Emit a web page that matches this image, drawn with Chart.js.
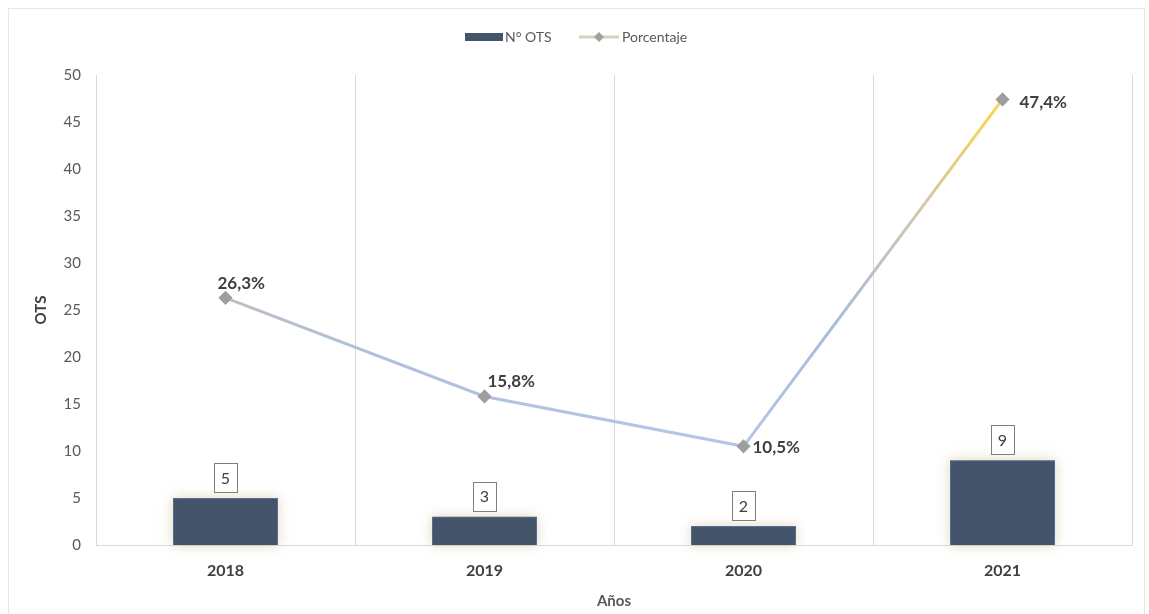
<!DOCTYPE html>
<html>
<head>
<meta charset="utf-8">
<script src="https://cdn.jsdelivr.net/npm/chart.js@4.4.1/dist/chart.umd.min.js"></script>
<style>
  html, body { margin: 0; padding: 0; background: #fff; }
  #wrap { position: relative; width: 1149px; height: 614px; }
  #frame { position: absolute; left: 8px; top: 8px; right: 4px; bottom: -2px; border: 1px solid #e6e6e6; pointer-events: none; }
</style>
</head>
<body>
<div id="wrap">
  <canvas id="chartOts" width="1149" height="614"></canvas>
  <div id="frame"></div>
</div>
<script>
// Datos del gráfico
const anios = ['2018', '2019', '2020', '2021'];
const numOts = [5, 3, 2, 9];
const porcentaje = [26.3, 15.8, 10.5, 47.4];
const etiquetasPorc = ['26,3%', '15,8%', '10,5%', '47,4%'];
const ticksY = [0, 5, 10, 15, 20, 25, 30, 35, 40, 45, 50];

const FUENTE = 'Lato, "Open Sans", sans-serif';
const COLOR_BARRA = '#44546a';
const COLOR_TEXTO = '#595959';

// Degradado de la línea (gris -> azul -> amarillo)
function degradadoLinea(context) {
  const chart = context.chart;
  const area = chart.chartArea;
  if (!area) return '#b4c7e7';
  const xs = chart.scales.x;
  const x0 = xs.getPixelForValue(0), x3 = xs.getPixelForValue(3);
  const g = chart.ctx.createLinearGradient(x0, 0, x3, 0);
  g.addColorStop(0, '#bcbfc4');
  g.addColorStop(0.2, '#b0c0dc');
  g.addColorStop(0.66, '#b4c7e7');
  g.addColorStop(0.78, '#a9bbdc');
  g.addColorStop(0.86, '#c2c4c4');
  g.addColorStop(1, '#ffd54a');
  return g;
}

// Sombra suave alrededor de las barras
const sombraBarras = {
  id: 'sombraBarras',
  beforeDatasetsDraw(chart) {
    const ctx = chart.ctx;
    const meta = chart.getDatasetMeta(0);
    ctx.save();
    ctx.shadowColor = 'rgba(200, 185, 140, 0.6)';
    ctx.shadowBlur = 12;
    ctx.fillStyle = COLOR_BARRA;
    meta.data.forEach(el => {
      const w = el.width;
      ctx.fillRect(el.x - w / 2, el.y, w, el.base - el.y);
    });
    ctx.restore();
  }
};

// Etiquetas de datos (cajas para las barras, texto en negrita para la línea)
const etiquetas = {
  id: 'etiquetas',
  afterDatasetsDraw(chart) {
    const ctx = chart.ctx;
    ctx.save();
    // barras
    const metaBar = chart.getDatasetMeta(0);
    ctx.font = '16px ' + FUENTE;
    ctx.textAlign = 'center';
    ctx.textBaseline = 'middle';
    metaBar.data.forEach((el, i) => {
      const w = 23, h = 29;
      const cx = el.x, bottom = el.y - 6;
      ctx.fillStyle = '#fff';
      ctx.fillRect(cx - w / 2, bottom - h, w, h);
      ctx.strokeStyle = '#7f7f7f';
      ctx.lineWidth = 1;
      ctx.strokeRect(Math.round(cx - w / 2) + 0.5, Math.round(bottom - h) + 0.5, w, h);
      ctx.fillStyle = '#404040';
      ctx.fillText(String(numOts[i]), cx, bottom - h / 2 + 1);
    });
    // línea
    const metaLin = chart.getDatasetMeta(1);
    ctx.font = 'bold 17px ' + FUENTE;
    ctx.fillStyle = '#404040';
    ctx.textAlign = 'left';
    const offs = [[-8, -14], [3, -15], [9, 1], [17, 3]];
    metaLin.data.forEach((el, i) => {
      ctx.fillText(etiquetasPorc[i], el.x + offs[i][0], el.y + offs[i][1]);
    });
    ctx.restore();
  }
};

// Leyenda dibujada arriba al centro
const leyenda = {
  id: 'leyenda',
  afterDraw(chart) {
    const ctx = chart.ctx;
    ctx.save();
    const y = 37;
    ctx.fillStyle = COLOR_BARRA;
    ctx.fillRect(465, y - 4, 38, 8);
    ctx.font = '14px ' + FUENTE;
    ctx.fillStyle = COLOR_TEXTO;
    ctx.textBaseline = 'middle';
    ctx.textAlign = 'left';
    ctx.fillText('N° OTS', 505, y);
    ctx.strokeStyle = '#d2d6b8';
    ctx.lineWidth = 3;
    ctx.beginPath();
    ctx.moveTo(579, y);
    ctx.lineTo(619, y);
    ctx.stroke();
    ctx.fillStyle = '#a0a0a0';
    ctx.beginPath();
    ctx.moveTo(599, y - 5); ctx.lineTo(604, y); ctx.lineTo(599, y + 5); ctx.lineTo(594, y);
    ctx.closePath();
    ctx.fill();
    ctx.fillStyle = COLOR_TEXTO;
    ctx.fillText('Porcentaje', 622, y);
    ctx.restore();
  }
};

const ctx = document.getElementById('chartOts').getContext('2d');
new Chart(ctx, {
  data: {
    labels: anios,
    datasets: [
      {
        type: 'bar',
        label: 'N° OTS',
        data: numOts,
        backgroundColor: COLOR_BARRA,
        borderColor: '#5b6f95',
        borderWidth: 1,
        barPercentage: 0.81,
        categoryPercentage: 0.5,
        order: 2
      },
      {
        type: 'line',
        label: 'Porcentaje',
        data: porcentaje,
        borderColor: degradadoLinea,
        borderWidth: 3,
        tension: 0,
        pointStyle: 'rectRot',
        pointRadius: 5,
        pointBackgroundColor: '#9e9e9e',
        pointBorderColor: '#9e9e9e',
        order: 1
      }
    ]
  },
  options: {
    responsive: false,
    animation: false,
    layout: { padding: { top: 75, right: 17, left: 0, bottom: 0 } },
    plugins: {
      legend: { display: false },
      tooltip: { enabled: false }
    },
    scales: {
      x: {
        offset: true,
        grid: { display: true, offset: true, color: '#d9d9d9', drawTicks: false },
        border: { display: true, color: '#d9d9d9' },
        ticks: {
          padding: 16,
          color: '#404040',
          font: { family: FUENTE, size: 16, weight: 'bold' }
        },
        title: {
          display: true,
          text: 'Años',
          color: COLOR_TEXTO,
          font: { family: FUENTE, size: 15, weight: 'bold' },
          padding: { top: 4, bottom: 4 }
        },
        afterFit(scale) { scale.height = 69; }
      },
      y: {
        min: 0,
        max: 50,
        afterBuildTicks(scale) { scale.ticks = ticksY.map(v => ({ value: v })); },
        grid: { display: false, drawTicks: false },
        border: { display: true, color: '#d9d9d9' },
        ticks: {
          padding: 15,
          color: COLOR_TEXTO,
          font: { family: FUENTE, size: 15 }
        },
        title: {
          display: true,
          text: 'OTS',
          color: '#404040',
          font: { family: FUENTE, size: 15, weight: 'bold' },
          padding: { top: 32, bottom: 0 }
        },
        afterFit(scale) { scale.width = 96; }
      }
    }
  },
  plugins: [sombraBarras, etiquetas, leyenda]
});
</script>
</body>
</html>
